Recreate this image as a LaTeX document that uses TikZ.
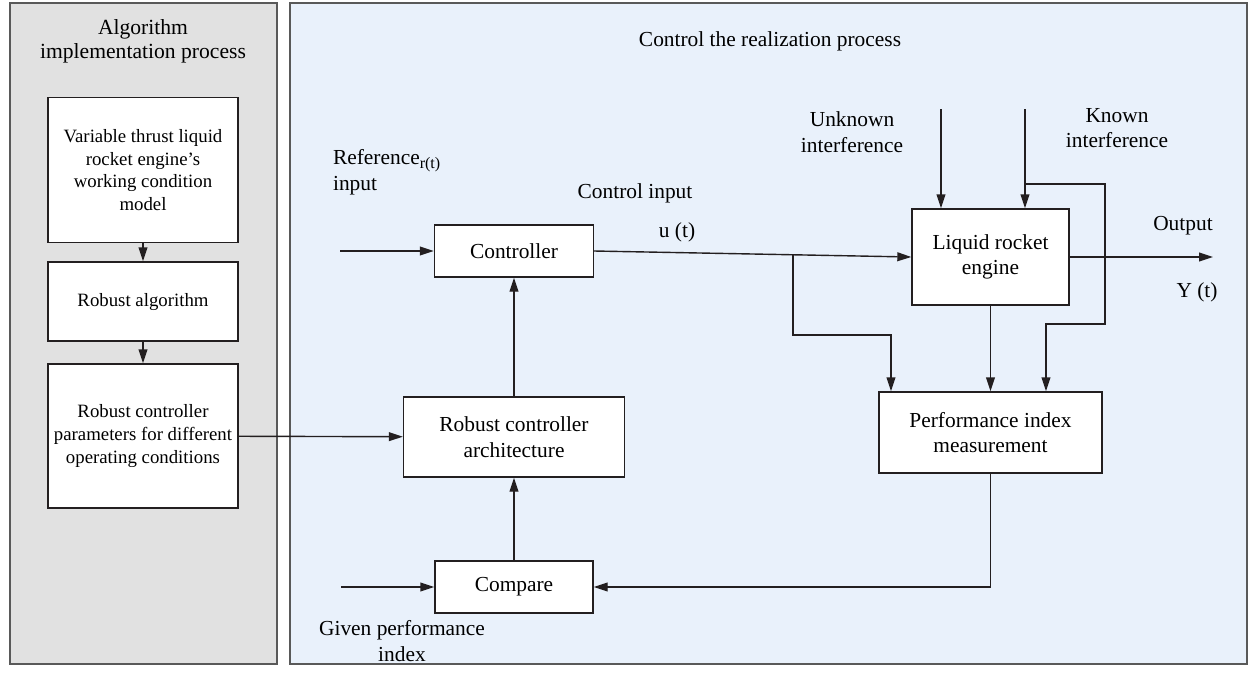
\documentclass[tikz,border=0pt]{standalone}
\usepackage{fontspec}
\setmainfont{Liberation Serif}
\usetikzlibrary{arrows.meta}
\definecolor{panelgray}{HTML}{E1E1E1}
\definecolor{panelblue}{HTML}{E9F1FB}
\definecolor{inkline}{HTML}{231F20}
\newcommand{\leftfont}{\fontsize{9.4}{11.4}\selectfont}
\newcommand{\rightfont}{\fontsize{10.7}{12.8}\selectfont}

\begin{document}
\begin{tikzpicture}[x=0.5pt,y=-0.5pt,
    blockbox/.style={draw=inkline,fill=white,line width=0.7pt,align=center,inner sep=1pt},
    flow/.style={draw=inkline,line width=0.7pt,-{Triangle[length=7pt,width=4.4pt]}},
    panel/.style={draw=black!65,line width=0.6pt}]
    \useasboundingbox (0,0) rectangle (1257,676);
    % panels
    \path[panel,fill=panelgray] (10,3) rectangle (277,664);
    \path[panel,fill=panelblue] (290,3) rectangle (1247,664);
    \node[align=center,font=\fontsize{10.8}{11.8}\selectfont] (algtitle) at (143,41) {Algorithm\\implementation process};
    \node[font=\rightfont] (ctrltitle) at (770,41) {Control the realization process};

    % algorithm side
    \node[blockbox,font=\leftfont,minimum width=95pt,minimum height=72.5pt] (model) at (143,170) {Variable thrust liquid\\rocket engine's\\working condition\\model};
    \node[blockbox,font=\leftfont,minimum width=95pt,minimum height=39.5pt] (robalg) at (143,301.5) {Robust algorithm};
    \node[blockbox,font=\leftfont,minimum width=95pt,minimum height=72pt] (params) at (143,436) {Robust controller\\parameters for different\\operating conditions};

    % control side
    \node[blockbox,font=\rightfont,minimum width=79.5pt,minimum height=26pt] (controller) at (514,251) {Controller};
    \node[blockbox,font=\rightfont,minimum width=110.5pt,minimum height=40pt] (arch) at (514,437) {Robust controller\\architecture};
    \node[blockbox,font=\rightfont,minimum width=79pt,minimum height=26pt] (compare) at (514,587) {Compare};
    \node[blockbox,font=\rightfont,minimum width=78.5pt,minimum height=48pt] (engine) at (990.5,257) {Liquid rocket\\engine};
    \node[blockbox,font=\rightfont,minimum width=111.5pt,minimum height=40.5pt] (pim) at (990.5,432.5) {Performance index\\measurement};

    % labels
    \node[font=\rightfont,align=left,anchor=west] (reflabel) at (326,172) {Reference\raisebox{-0.45ex}{\fontsize{8}{8}\selectfont r(t)}\\input};
    \node[font=\rightfont] (ctrlinlabel) at (635,193) {Control input};
    \node[font=\rightfont] (ulabel) at (677,232) {u (t)};
    \node[font=\rightfont,align=center] (unklabel) at (852,132) {Unknown\\interference};
    \node[font=\rightfont,align=center] (knownlabel) at (1117,128) {Known\\interference};
    \node[font=\rightfont] (outlabel) at (1183,226) {Output};
    \node[font=\rightfont] (ylabel) at (1197,292) {Y (t)};
    \node[font=\rightfont,align=center] (givenlabel) at (402,641) {Given performance\\index};

    % free ends
    \coordinate (refin) at (340,251);
    \coordinate (givenin) at (341,587);
    \coordinate (unkin) at (941,109);
    \coordinate (knownin) at (1025,109);
    \coordinate (knowntap) at (1025,184);
    \coordinate (utap) at (793,254.8);
    \coordinate (outend) at (1213,257);

    % connectors
    \draw[flow] (model) -- (robalg);
    \draw[flow] (robalg) -- (params);
    \draw[flow] (params) -- (arch);
    \draw[flow] (refin) -- (controller);
    \draw[flow] (givenin) -- (compare);
    \draw[flow] (compare) -- (arch);
    \draw[flow] (arch) -- (controller);
    \draw[flow] (controller.east) -- (engine.west);
    \draw[flow] (unkin) -- (unkin |- engine.north);
    \draw[flow] (knownin) -- (knownin |- engine.north);
    \draw[flow] (engine) -- (pim);
    \draw[flow] (engine.east) -- (outend);
    \draw[flow] (utap) -- (793,335) -| ([xshift=-49.75pt]pim.north);
    \draw[flow] (knowntap) -| (1105,324) -| ([xshift=27.75pt]pim.north);
    \draw[flow] (pim.south) |- (compare.east);
\end{tikzpicture}
\end{document}
